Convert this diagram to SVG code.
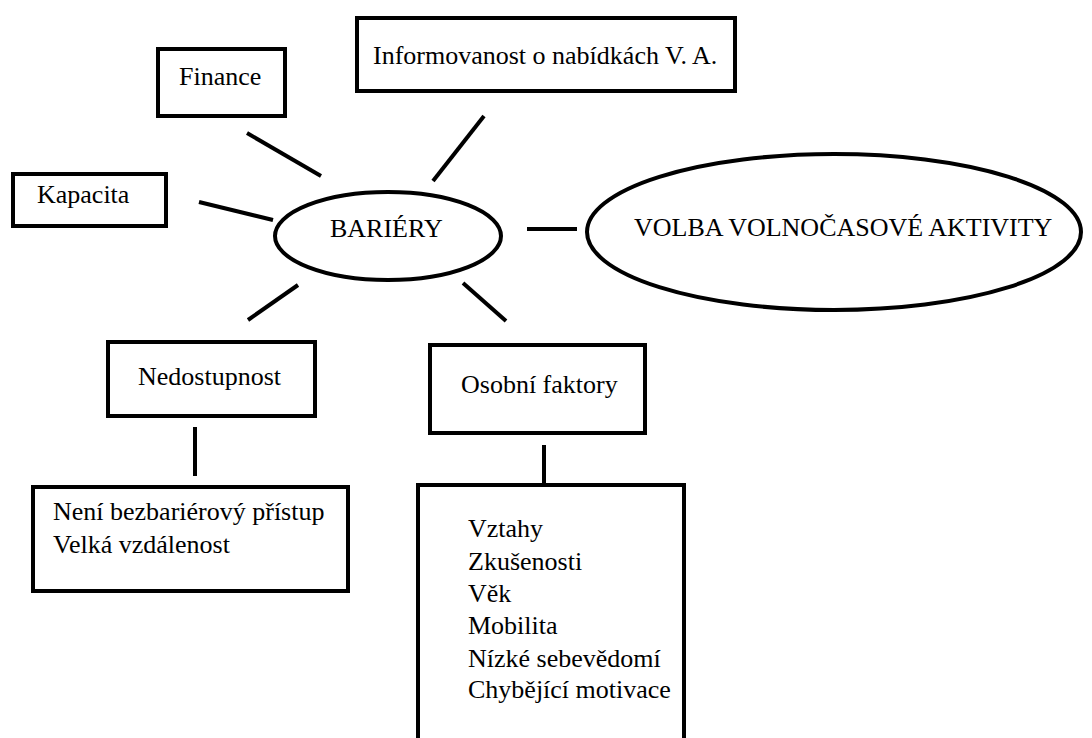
<svg xmlns="http://www.w3.org/2000/svg" width="1092" height="738" viewBox="0 0 1092 738">
  <style>
    .box { fill: #fff; stroke: #000; stroke-width: 4; }
    .oval { fill: #fff; stroke: #000; stroke-width: 4; }
    .link { stroke: #000; stroke-width: 4; fill: none; }
  </style>
  <rect width="1092" height="738" fill="#fff"/>

  <g id="connectors">
    <line class="link" x1="247" y1="133" x2="321" y2="176"/>
    <line class="link" x1="199" y1="202" x2="273" y2="220"/>
    <line class="link" x1="484" y1="116" x2="433" y2="181"/>
    <line class="link" x1="298" y1="285" x2="248" y2="320"/>
    <line class="link" x1="463" y1="283" x2="506" y2="321"/>
    <line class="link" x1="527" y1="229" x2="577" y2="229"/>
    <line class="link" x1="195" y1="427" x2="195" y2="476"/>
    <line class="link" x1="544" y1="445" x2="544" y2="483"/>
  </g>

  <g id="finance">
    <rect class="box" x="158" y="49" width="127" height="67"/>
    <text x="179" y="85" font-family="Liberation Serif" font-size="26">Finance</text>
  </g>

  <g id="kapacita">
    <rect class="box" x="13" y="174" width="153" height="52"/>
    <text x="37" y="203" font-family="Liberation Serif" font-size="26">Kapacita</text>
  </g>

  <g id="informovanost">
    <rect class="box" x="357" y="18" width="378" height="73"/>
    <text x="373" y="64" font-family="Liberation Serif" font-size="26">Informovanost o nabídkách V. A.</text>
  </g>

  <g id="bariery">
    <ellipse class="oval" cx="388" cy="236" rx="113" ry="44"/>
    <text x="330" y="237" font-family="Liberation Serif" font-size="26">BARIÉRY</text>
  </g>

  <g id="volba">
    <ellipse class="oval" cx="834" cy="232" rx="247" ry="78"/>
    <text x="634" y="236" font-family="Liberation Serif" font-size="26">VOLBA VOLNOČASOVÉ AKTIVITY</text>
  </g>

  <g id="nedostupnost">
    <rect class="box" x="108" y="342" width="207" height="74"/>
    <text x="138" y="385" font-family="Liberation Serif" font-size="26">Nedostupnost</text>
  </g>

  <g id="nedostupnost-detail">
    <rect class="box" x="33" y="487" width="315" height="104"/>
    <text x="53" y="520" font-family="Liberation Serif" font-size="26">Není bezbariérový přístup</text>
    <text x="53" y="553" font-family="Liberation Serif" font-size="26">Velká vzdálenost</text>
  </g>

  <g id="osobni">
    <rect class="box" x="430" y="345" width="215" height="88"/>
    <text x="461" y="393" font-family="Liberation Serif" font-size="26">Osobní faktory</text>
  </g>

  <g id="osobni-detail">
    <path class="link" d="M418 742 V485 H684 V742"/>
    <text x="468" y="537" font-family="Liberation Serif" font-size="26">Vztahy</text>
    <text x="468" y="570" font-family="Liberation Serif" font-size="26">Zkušenosti</text>
    <text x="468" y="602" font-family="Liberation Serif" font-size="26">Věk</text>
    <text x="468" y="634" font-family="Liberation Serif" font-size="26">Mobilita</text>
    <text x="468" y="667" font-family="Liberation Serif" font-size="26">Nízké sebevědomí</text>
    <text x="468" y="698" font-family="Liberation Serif" font-size="26">Chybějící motivace</text>
  </g>
</svg>
